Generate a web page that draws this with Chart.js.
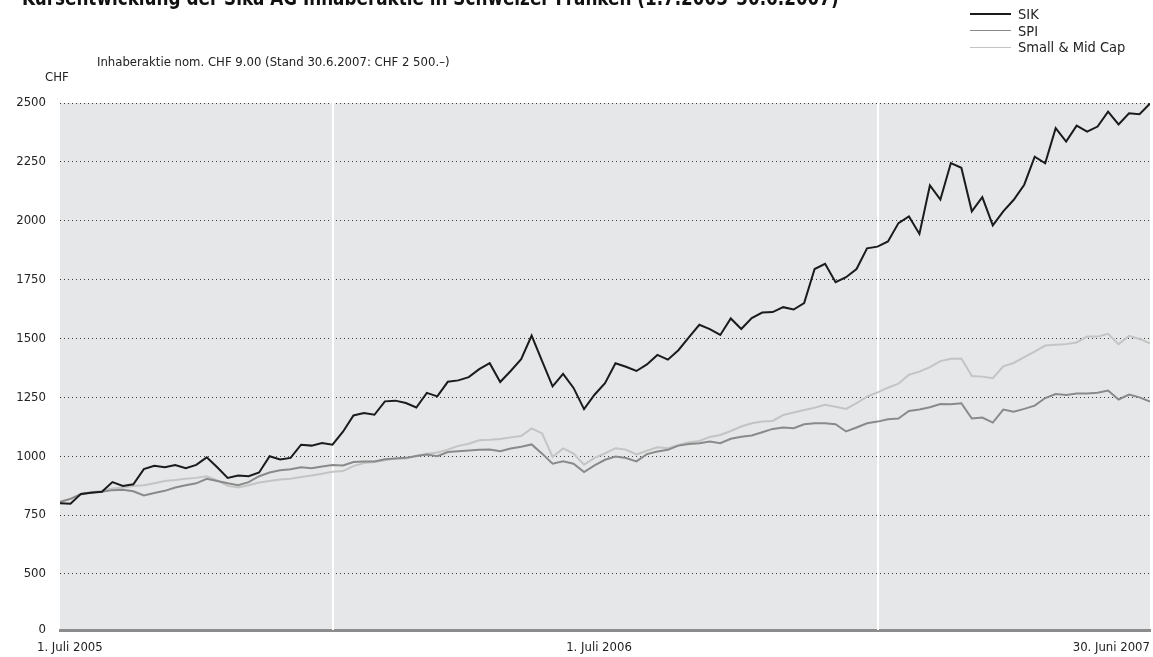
<!DOCTYPE html>
<html>
<head>
<meta charset="utf-8">
<script src="https://cdn.jsdelivr.net/npm/chart.js@4.4.0/dist/chart.umd.min.js"></script>
<style>
  body { margin: 0; background: #fff; font-family: "Liberation Sans Narrow", "DejaVu Sans Condensed", "Roboto", sans-serif; color: #222; }
  #wrap { position: relative; width: 1153px; height: 657px; overflow: hidden; }
  #c { position: absolute; left: 0; top: 0; }
  .txt { position: absolute; white-space: nowrap; }
  #title { left: 22px; top: -14px; font-size: 21px; font-weight: bold; color: #111; transform: scaleX(0.89); transform-origin: left top; }
  #sub { left: 97px; top: 54px; font-size: 13px; }
  #unit { left: 45px; top: 69px; font-size: 13px; }
  #legend { left: 970px; top: 6px; font-size: 14.5px; line-height: 16.5px; }
  #legend .row { display: flex; align-items: center; }
  #legend .ln { display: inline-block; width: 41px; margin-right: 7px; }
</style>
</head>
<body>
<div id="wrap">
  <canvas id="c" width="1153" height="657"></canvas>
  <div class="txt" id="title">Kursentwicklung der Sika AG Inhaberaktie in Schweizer Franken (1.7.2005–30.6.2007)</div>
  <div class="txt" id="sub">Inhaberaktie nom. CHF 9.00 (Stand 30.6.2007: CHF 2 500.–)</div>
  <div class="txt" id="unit">CHF</div>
  <div class="txt" id="legend"></div>
</div>
<script>
// weekly closing values, 1.7.2005 (week 0) to 30.6.2007 (week 104)
const sik = [
  800, 798, 840, 845, 849, 890, 874, 881, 945, 959,
  953, 963, 949, 963, 995, 953, 908, 918, 915, 931,
  1000, 986, 993, 1049, 1045, 1056, 1049, 1104, 1173, 1183,
  1176, 1233, 1236, 1226, 1207, 1269, 1254, 1316, 1322, 1336,
  1370, 1395, 1315, 1362, 1412, 1512, 1404, 1297, 1350, 1290,
  1200, 1261, 1310, 1395, 1380, 1362, 1390, 1430, 1410, 1450,
  1505, 1558, 1540, 1515, 1585, 1540, 1587, 1610, 1612, 1633,
  1623, 1650, 1795, 1817, 1739, 1760, 1795, 1883, 1890, 1912,
  1990, 2018, 1944, 2150, 2090, 2245, 2225, 2040, 2100, 1980,
  2040, 2089, 2153, 2272, 2244, 2393, 2336, 2404, 2378, 2400,
  2463, 2409, 2456, 2452, 2498
];
const spi = [
  805, 819, 840, 847, 849, 856, 858, 851, 833, 844,
  853, 867, 877, 885, 904, 895, 885, 877, 890, 915,
  931, 940, 945, 953, 949, 956, 963, 961, 975, 978,
  978, 987, 990, 993, 1001, 1007, 1000, 1018, 1021, 1024,
  1027, 1028, 1021, 1033, 1040, 1050, 1011, 968, 978, 968,
  933, 961, 985, 999, 992, 978, 1009, 1020, 1027, 1045,
  1052, 1055, 1062, 1055, 1074, 1083, 1088, 1102, 1116, 1122,
  1119, 1136, 1140, 1140, 1136, 1105, 1122, 1140, 1147, 1157,
  1160, 1192, 1198, 1208, 1222, 1221, 1225, 1160, 1164, 1143,
  1198, 1189, 1201, 1215, 1247, 1264, 1260, 1266, 1266, 1270,
  1279, 1241, 1262, 1250, 1232
];
const smallMid = [
  808, 819, 836, 847, 853, 863, 867, 874, 877, 885,
  895, 899, 904, 908, 915, 897, 874, 867, 877, 888,
  895, 901, 904, 912, 918, 926, 934, 937, 958, 971,
  975, 983, 990, 990, 1001, 1011, 1016, 1028, 1044, 1053,
  1068, 1070, 1073, 1080, 1086, 1118, 1097, 997, 1033, 1011,
  964, 993, 1012, 1034, 1028, 1008, 1023, 1038, 1034, 1048,
  1059, 1065, 1082, 1090, 1107, 1126, 1140, 1147, 1150, 1175,
  1186, 1196, 1206, 1218, 1210, 1201, 1225, 1253, 1271, 1291,
  1308, 1346, 1359, 1378, 1404, 1414, 1415, 1341, 1338, 1331,
  1382, 1396, 1421, 1444, 1470, 1473, 1476, 1483, 1508, 1508,
  1520, 1476, 1511, 1498, 1479
];

const seriesNames = ['SIK', 'SPI', 'Small & Mid Cap'];
const seriesColors = ['#1b1b1b', '#8a8a8a', '#c4c4c4'];
const seriesWidths = [2, 2, 2];

const xTickWeeks = [0, 52, 104];
const xTickLabels = ['1. Juli 2005', '1. Juli 2006', '30. Juni 2007'];
const yearBreakWeeks = [26, 78];   // 1.1.2006, 1.1.2007

const yTickValues = [500, 750, 1000, 1250, 1500, 1750, 2000, 2250, 2500];
const axisFloor = 262;             // broken axis: baseline is labelled 0
const axisFloorLabel = '0';

const FONT = '"Liberation Sans Narrow", "DejaVu Sans Condensed", "Roboto", sans-serif';

// legend
const legendEl = document.getElementById('legend');
seriesNames.forEach((name, i) => {
  legendEl.innerHTML += `<div class="row"><span class="ln" style="border-top:${i === 0 ? 2 : 1.5}px solid ${seriesColors[i]}"></span>${name}</div>`;
});

const toPoints = arr => arr.map((v, i) => ({ x: i, y: v }));

const backdrop = {
  id: 'backdrop',
  beforeDraw(chart) {
    const { ctx, chartArea: a } = chart;
    ctx.save();
    ctx.fillStyle = '#e6e7e8';
    ctx.fillRect(a.left, a.top, a.right - a.left, a.bottom - a.top);
    ctx.restore();
  },
  beforeDatasetsDraw(chart) {
    const { ctx, chartArea: a, scales: { x } } = chart;
    ctx.save();
    ctx.strokeStyle = '#ffffff';
    ctx.lineWidth = 2;
    yearBreakWeeks.forEach(w => {
      const px = Math.round(x.getPixelForValue(w));
      ctx.beginPath();
      ctx.moveTo(px, a.top - 2);
      ctx.lineTo(px, a.bottom);
      ctx.stroke();
    });
    ctx.restore();
  },
  afterDraw(chart) {
    const { ctx, chartArea: a, scales: { x } } = chart;
    ctx.save();
    ctx.font = '13px ' + FONT;
    ctx.fillStyle = '#222';
    ctx.textBaseline = 'middle';
    xTickWeeks.forEach((w, i) => {
      const px = x.getPixelForValue(w);
      if (i === 0) { ctx.textAlign = 'left'; ctx.fillText(xTickLabels[i], px - 23, a.bottom + 18); }
      else if (i === xTickWeeks.length - 1) { ctx.textAlign = 'right'; ctx.fillText(xTickLabels[i], px, a.bottom + 18); }
      else { ctx.textAlign = 'center'; ctx.fillText(xTickLabels[i], px - 6, a.bottom + 18); }
    });
    ctx.restore();
  }
};

Chart.defaults.font.family = FONT;

new Chart(document.getElementById('c'), {
  type: 'line',
  data: {
    datasets: [sik, spi, smallMid].map((arr, i) => ({
      label: seriesNames[i],
      data: toPoints(arr),
      borderColor: seriesColors[i],
      borderWidth: seriesWidths[i],
      pointRadius: 0,
      tension: 0,
      fill: false
    }))
  },
  options: {
    responsive: false,
    animation: false,
    devicePixelRatio: 1,
    layout: { padding: { top: 103, right: 3, left: 0, bottom: 0 } },
    plugins: { legend: { display: false }, tooltip: { enabled: false }, title: { display: false } },
    scales: {
      x: {
        type: 'linear',
        min: 0,
        max: 104,
        grid: { display: false },
        border: { display: true, color: '#8c8c8c', width: 3 },
        ticks: { display: false },
        afterFit(scale) { scale.height = 27; }
      },
      y: {
        min: axisFloor,
        max: 2500,
        afterBuildTicks(scale) {
          scale.ticks = [axisFloor, ...yTickValues].map(v => ({ value: v }));
        },
        afterFit(scale) { scale.width = 60; },
        border: { display: false, dash: [1, 3] },
        grid: {
          drawTicks: false,
          color: ctx => ctx.tick && ctx.tick.value === axisFloor ? 'rgba(0,0,0,0)' : '#3a3a3a',
          lineWidth: 1
        },
        ticks: {
          autoSkip: false,
          padding: 14,
          color: '#222',
          font: { size: 13 },
          callback: v => v === axisFloor ? axisFloorLabel : String(v)
        }
      }
    }
  },
  plugins: [backdrop]
});
</script>
</body>
</html>
